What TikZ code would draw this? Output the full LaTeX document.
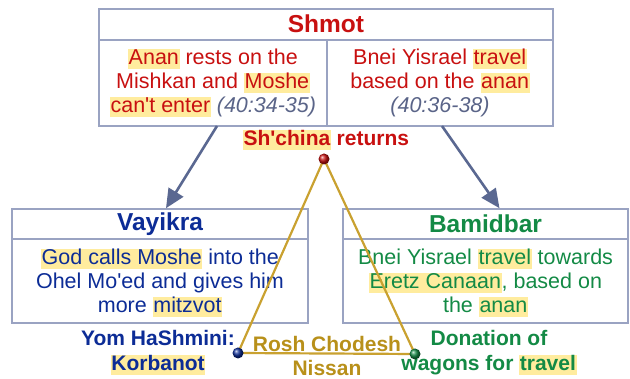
\documentclass[tikz,border=0pt]{standalone}
\usepackage{fontspec}
\setmainfont{Liberation Sans}
\usetikzlibrary{arrows.meta}
\definecolor{redc}{HTML}{C81010}
\definecolor{refc}{HTML}{5A6488}
\definecolor{bluec}{HTML}{0C2C96}
\definecolor{greenc}{HTML}{138A45}
\definecolor{goldl}{HTML}{C9A130}
\definecolor{goldt}{HTML}{B8901A}
\definecolor{hly}{HTML}{FFEC9E}
\definecolor{boxc}{HTML}{9AA3C2}
\definecolor{arrowc}{HTML}{5A6891}
\newcommand\hl[1]{{\setlength{\fboxsep}{0pt}\colorbox{hly}{\rule[-4.5pt]{0pt}{20pt}\kern0.6pt#1\kern0.6pt}}}
\newcommand\hlb[1]{{\setlength{\fboxsep}{0pt}\colorbox{hly}{\rule[-5pt]{0pt}{20pt}\kern0.6pt#1\kern0.6pt}}}
\tikzset{
  boxline/.style={draw=boxc, line width=1.5pt},
  panel/.style={boxline, inner sep=0pt},
  body/.style={align=center, inner sep=0pt, font=\fontsize{21.5}{24}\selectfont},
  ttl/.style={inner sep=0pt, font=\bfseries\fontsize{24.5}{28}\selectfont},
  lbl/.style={align=center, inner sep=0pt, font=\bfseries\fontsize{21}{24.5}\selectfont},
  arr/.style={draw=arrowc, line width=2.6pt, -{Triangle[length=19pt,width=17pt]}},
  tri/.style={draw=goldl, line width=2.2pt},
  dot/.style={circle, inner sep=0pt, minimum size=11pt},
}
\begin{document}
\begin{tikzpicture}[x=1pt,y=-1pt]
\useasboundingbox (0,0) rectangle (630,379);
% Shmot
\node[panel, minimum width=454pt, minimum height=117pt] (shmot) at (326,67.5) {};
\draw[boxline] (99,40) coordinate (sl) -- (553,40) coordinate (sr);
\draw[boxline] (327,40) coordinate (sdt) -- (327,126) coordinate (sdb);
\node[ttl, text=redc] (shmotT) at (326,24) {Shmot};
\node[body, text=redc] (shL) at (213,83) {\hl{Anan} rests on the\\Mishkan and \hl{Moshe}\\\hl{can\textquotesingle t enter} {\itshape\color{refc}(40:34-35)}};
\node[body, text=redc] (shR) at (440,83) {Bnei Yisrael \hl{travel}\\based on the \hl{anan}\\{\itshape\color{refc}(40:36-38)}};
% Vayikra
\node[panel, minimum width=296pt, minimum height=114pt] (vay) at (160,266) {};
\draw[boxline] (12,239) -- (308,239);
\node[ttl, text=bluec] (vayT) at (160,224) {Vayikra};
\node[body, text=bluec] (vayB) at (160,283) {\hl{God calls Moshe} into the\\Ohel Mo\textquotesingle ed and gives him\\more \hl{mitzvot}};
% Bamidbar
\node[panel, minimum width=285pt, minimum height=114pt] (bam) at (485.5,266) {};
\draw[boxline] (343,239) -- (628,239);
\node[ttl, text=greenc] (bamT) at (485.5,224) {Bamidbar};
\node[body, text=greenc] (bamB) at (485.5,283) {Bnei Yisrael \hl{travel} towards\\\hl{Eretz Canaan}, based on\\the \hl{anan}};
% arrows
\coordinate (a1) at (217,126);
\coordinate (a2) at (442,126);
\draw[arr] (a1) -- ([xshift=6pt]vay.north);
\draw[arr] (a2) -- ([xshift=14pt]bam.north);
% labels
\node[lbl, text=redc] (shch) at (326,140) {\hlb{Sh\textquotesingle china} returns};
\node[lbl, text=bluec] (yom) at (158,353) {Yom HaShmini:\\\hlb{Korbanot}};
\node[lbl, text=goldt] (rosh) at (327,356) {Rosh Chodesh\\Nissan};
\node[lbl, text=greenc] (don) at (489,353) {Donation of\\wagons for \hlb{travel}};
% triangle
\coordinate (cr) at (324,159);
\coordinate (cb) at (238,353);
\coordinate (cg) at (415,354);
\draw[tri] (cr) -- (cb) -- (cg) -- cycle;
\node[dot, shading=ball, ball color=redc] (dr) at (cr) {};
\node[dot, shading=ball, ball color=bluec] (db) at (cb) {};
\node[dot, shading=ball, ball color=greenc] (dg) at (cg) {};
\end{tikzpicture}
\end{document}
